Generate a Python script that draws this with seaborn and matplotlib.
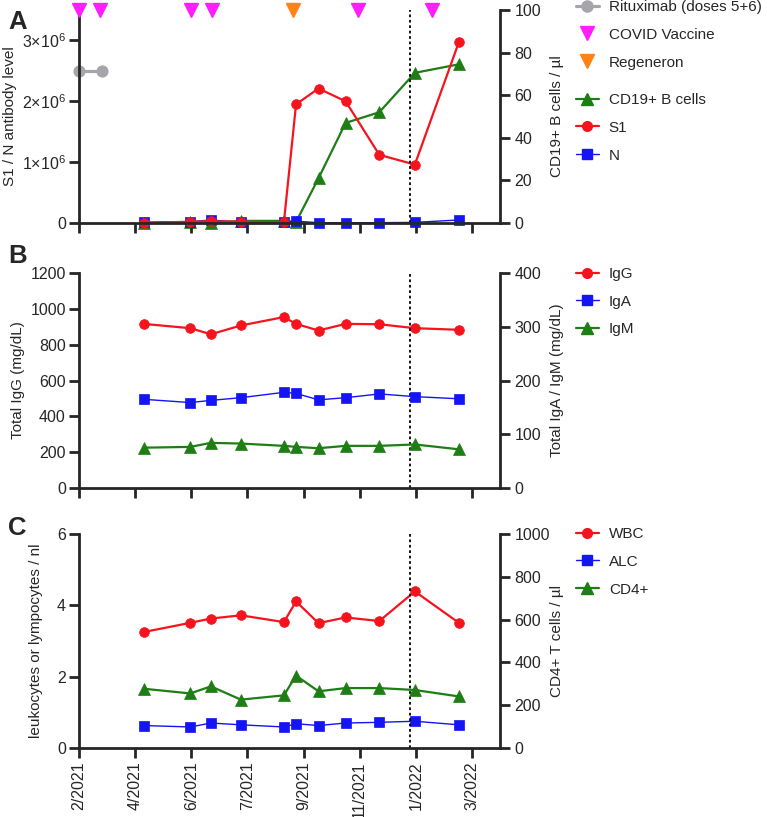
import pandas as pd
import matplotlib
matplotlib.use("Agg")
import matplotlib.pyplot as plt
import seaborn as sns
from matplotlib.lines import Line2D

sns.set_style("ticks")
plt.rcParams['font.family'] = ['Liberation Sans', 'DejaVu Sans']
plt.rcParams['mathtext.fontset'] = 'custom'
plt.rcParams['mathtext.rm'] = 'Liberation Sans'
plt.rcParams['mathtext.it'] = 'Liberation Sans'
plt.rcParams['font.size'] = 11

# ---- data ----
dates = pd.to_datetime(["2021-04-11", "2021-05-31", "2021-06-22", "2021-07-24", "2021-09-08",
                        "2021-09-21", "2021-10-15", "2021-11-13", "2021-12-19", "2022-01-26",
                        "2022-03-14"])
s1 = [5e3, 2e4, 3e4, 2e4, 1e4, 1.95e6, 2.21e6, 2.0e6, 1.12e6, 0.96e6, 2.97e6]
n_ab = [1e4, 2e4, 5e4, 1e4, 1e4, 3e4, 5e3, 5e3, 5e3, 1e4, 5e4]
cd19 = [0, 0.5, 0, 1, 1, 0.5, 21, 47, 52, 70.5, 74.5]

ritux_dates = pd.to_datetime(["2021-02-01", "2021-02-26"])
ritux_y = [2.5e6, 2.5e6]
vaccine_dates = pd.to_datetime(["2021-02-01", "2021-02-23", "2021-06-01", "2021-06-23",
                                "2021-11-26", "2022-02-13"])
regeneron_dates = pd.to_datetime(["2021-09-18"])

igg = [916, 892, 858, 907, 954, 916, 879, 916, 914, 892, 883]
iga = [165, 159, 163, 168, 178, 176, 164, 168, 175, 170, 166]
igm = [75, 76.5, 84, 82.7, 78.4, 76.5, 74, 78.4, 78.4, 81, 72]

wbc = [3.25, 3.51, 3.63, 3.72, 3.53, 4.11, 3.50, 3.66, 3.56, 4.39, 3.51]
alc = [0.63, 0.59, 0.70, 0.65, 0.59, 0.68, 0.63, 0.70, 0.72, 0.75, 0.65]
cd4 = [277, 255, 288, 226, 246, 338, 265, 280, 280, 271, 241]

dotted_date = pd.Timestamp("2022-01-21")
x_start = pd.Timestamp("2021-02-01")
x_end = pd.Timestamp("2022-04-27")
tick_dates = pd.to_datetime(["2021-02-01", "2021-04-02", "2021-06-01", "2021-07-31",
                             "2021-09-29", "2021-11-28", "2022-01-27", "2022-03-28"])
tick_labels = ["2/2021", "4/2021", "6/2021", "7/2021", "9/2021", "11/2021", "1/2022", "3/2022"]

RED = "#f5141e"
BLUE = "#1414f5"
GREEN = "#1e7d14"
MAGENTA = "#ff1eff"
ORANGE = "#ff8214"
GREY = "#a5a5aa"

W, H = 767, 817
L, R = 79, 500
fig = plt.figure(figsize=(W / 100, H / 100), dpi=100)


def box(top, bottom):
    return [L / W, 1 - bottom / H, (R - L) / W, (bottom - top) / H]


def style(ax, right=False):
    ax.spines["top"].set_visible(False)
    if right:
        ax.spines["left"].set_visible(False)
        ax.spines["bottom"].set_visible(False)
    else:
        ax.spines["right"].set_visible(False)
    for s in ax.spines.values():
        s.set_linewidth(2.0)
    ax.tick_params(width=2.0, length=7.5, labelsize=11.5, pad=2)
    if right:
        ax.tick_params(axis="y", pad=3)


def series(ax, y, color, marker, ms, lw, label):
    sns.lineplot(x=dates, y=y, ax=ax, color=color, marker=marker, markersize=ms,
                 linewidth=lw, markeredgecolor=color, markeredgewidth=0.5, label=label,
                 legend=False, clip_on=False)


def finish_x(ax, show_labels):
    ax.set_xlim(x_start, x_end)
    ax.set_xticks(tick_dates)
    if show_labels:
        ax.set_xticklabels(tick_labels, rotation=90)
    else:
        ax.set_xticklabels([])
    ax.set_xlabel("")
    ax.axvline(dotted_date, color="black", linestyle=(0, (1.5, 1.5)), linewidth=1.3)


def labels(ax, ax2, left_text, right_text, left_edge):
    ax.set_ylabel(left_text, fontsize=11)
    ax2.set_ylabel(right_text, fontsize=11)
    ax.yaxis.set_label_coords((left_edge - L) / (R - L), 0.5)
    ax2.yaxis.set_label_coords((550 - L) / (R - L), 0.5)


def leg(ax, handles, texts, y_top):
    return ax.legend(handles, texts, loc="upper left", bbox_to_anchor=(576 / W, 1 - y_top / H),
                     bbox_transform=fig.transFigure, frameon=False, fontsize=11,
                     handlelength=1.5, handletextpad=0.65, labelspacing=0.9, borderpad=0,
                     borderaxespad=0)


# ---- panel A ----
axA = fig.add_axes(box(10, 223))
axA2 = axA.twinx()
series(axA2, cd19, GREEN, "^", 8, 1.6, "CD19+ B cells")
series(axA, n_ab, BLUE, "s", 6.7, 1.0, "N")
series(axA, s1, RED, "o", 7, 1.6, "S1")
sns.lineplot(x=ritux_dates, y=ritux_y, ax=axA, color=GREY, marker="o", markersize=8,
             markeredgecolor=GREY, linewidth=2.3, clip_on=False, legend=False)
axA.plot(vaccine_dates, [3.5e6] * len(vaccine_dates), linestyle="none", marker="v",
         markersize=9.5, color=MAGENTA, clip_on=False, zorder=5)
axA.plot(regeneron_dates, [3.5e6], linestyle="none", marker="v", markersize=9.5,
         color=ORANGE, clip_on=False, zorder=5)
axA.set_ylim(0, 3.5e6)
axA.set_yticks([0, 1e6, 2e6, 3e6])
axA.set_yticklabels(["0", r"$1{\times}10^6$", r"$2{\times}10^6$", r"$3{\times}10^6$"])
axA2.set_ylim(0, 100)
axA2.set_yticks([0, 20, 40, 60, 80, 100])
axA.set_zorder(axA2.get_zorder() + 1)
axA.patch.set_visible(False)
style(axA)
style(axA2, right=True)
finish_x(axA, False)
labels(axA, axA2, "S1 / N antibody level", "CD19+ B cells / µl", 17)

h_rit = Line2D([], [], color=GREY, marker="o", markersize=8, linewidth=2.3)
h_vac = Line2D([], [], color=MAGENTA, marker="v", markersize=9.5, linestyle="none")
h_reg = Line2D([], [], color=ORANGE, marker="v", markersize=9.5, linestyle="none")
h_cd19 = Line2D([], [], color=GREEN, marker="^", markersize=8, linewidth=1.6)
h_s1 = Line2D([], [], color=RED, marker="o", markersize=7, linewidth=1.6)
h_n = Line2D([], [], color=BLUE, marker="s", markersize=6.7, linewidth=1.0)
lgA1 = leg(axA2, [h_rit, h_vac, h_reg], ["Rituximab (doses 5+6)", "COVID Vaccine", "Regeneron"], 0)
axA2.add_artist(lgA1)
leg(axA2, [h_cd19, h_s1, h_n], ["CD19+ B cells", "S1", "N"], 93)

# ---- panel B ----
axB = fig.add_axes(box(273, 488))
axB2 = axB.twinx()
series(axB2, igm, GREEN, "^", 8, 1.6, "IgM")
series(axB2, iga, BLUE, "s", 6.7, 1.0, "IgA")
series(axB, igg, RED, "o", 7, 1.6, "IgG")
axB.set_ylim(0, 1200)
axB.set_yticks(range(0, 1201, 200))
axB2.set_ylim(0, 400)
axB2.set_yticks(range(0, 401, 100))
style(axB)
style(axB2, right=True)
finish_x(axB, False)
labels(axB, axB2, "Total IgG (mg/dL)", "Total IgA / IgM (mg/dL)", 25)
h_igg = Line2D([], [], color=RED, marker="o", markersize=7, linewidth=1.6)
h_iga = Line2D([], [], color=BLUE, marker="s", markersize=6.7, linewidth=1.0)
h_igm = Line2D([], [], color=GREEN, marker="^", markersize=8, linewidth=1.6)
leg(axB2, [h_igg, h_iga, h_igm], ["IgG", "IgA", "IgM"], 267)

# ---- panel C ----
axC = fig.add_axes(box(534, 748))
axC2 = axC.twinx()
series(axC2, cd4, GREEN, "^", 8, 1.6, "CD4+")
series(axC, alc, BLUE, "s", 6.7, 1.0, "ALC")
series(axC, wbc, RED, "o", 7, 1.6, "WBC")
axC.set_ylim(0, 6)
axC.set_yticks([0, 2, 4, 6])
axC2.set_ylim(0, 1000)
axC2.set_yticks(range(0, 1001, 200))
style(axC)
style(axC2, right=True)
finish_x(axC, True)
labels(axC, axC2, "leukocytes or lympocytes / nl", "CD4+ T cells / µl", 43)
h_wbc = Line2D([], [], color=RED, marker="o", markersize=7, linewidth=1.6)
h_alc = Line2D([], [], color=BLUE, marker="s", markersize=6.7, linewidth=1.0)
h_cd4 = Line2D([], [], color=GREEN, marker="^", markersize=8, linewidth=1.6)
leg(axC2, [h_wbc, h_alc, h_cd4], ["WBC", "ALC", "CD4+"], 527)

for letter, y in [("A", 22), ("B", 256), ("C", 528)]:
    fig.text(8 / W, 1 - y / H, letter, fontsize=18.5, fontweight="bold", va="center", ha="left")

fig.savefig("out.png", dpi=100)
